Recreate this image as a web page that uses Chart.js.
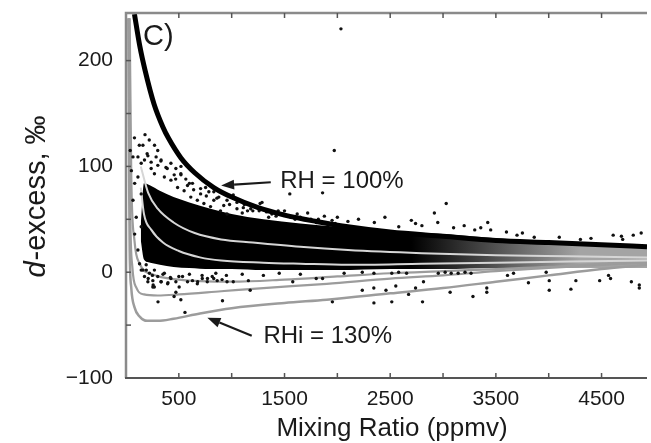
<!DOCTYPE html>
<html>
<head>
<meta charset="utf-8">
<script src="https://cdn.jsdelivr.net/npm/chart.js@4.4.1/dist/chart.umd.min.js"></script>
<style>
html, body { margin: 0; padding: 0; background: #fff; overflow: hidden; }
#wrap { width: 651px; height: 443px; position: relative; }
</style>
</head>
<body>
<div id="wrap"><canvas id="c"></canvas></div>
<script>
// RH = 100% curve (ppmv, permil)
const rhX = [80, 130, 180, 265, 350, 400, 520, 650, 830, 1000, 1250, 1500, 1800, 2100, 2500, 3000, 3500, 4000, 4500, 4930];
const rhY = [244, 214, 191, 159, 137, 127, 108, 94, 80, 71, 61, 54, 48, 43, 38, 34, 30, 28, 26, 24];

// dense part of the measurements (upper / lower edge)
const bandX = [140, 170, 230, 320, 450, 600, 800, 1000, 1300, 1650, 2000, 2500, 3000, 3500, 4000, 4500, 4930];
const bandTop = [45, 84, 82, 77, 71, 66, 60, 55, 50, 46, 43, 39, 36, 32, 29, 27, 25];
const bandBot = [30, 12, 9, 7, 5, 4, 3, 3, 2, 2, 2, 3, 3, 4, 4, 4, 4];

// light curves inside the band
const w1X = [140, 210, 300, 450, 650, 900, 1200, 1650, 2100, 2800, 3500, 4200, 4930];
const w1Y = [100, 75, 60, 47, 37, 31, 28, 24, 21, 18, 16, 15, 14];
const w2X = [140, 170, 240, 350, 500, 700, 900, 1300, 1650, 2100, 2800, 3500, 4200, 4930];
const w2Y = [80, 55, 40, 28, 20, 14, 11, 9, 8, 7, 8, 9, 10, 11];

// supersaturation curves below the band
const aX = [35, 50, 80, 130, 250, 500, 1000, 1500, 2000, 2500, 3000, 3500, 4000, 4500, 4930];
const aY = [240, 90, 30, 8, -2, -7, -9, -7, -4, -1, 1, 3, 5, 8, 10];
const bX = [28, 40, 60, 100, 170, 300, 500, 900, 1300, 1900, 2500, 3000, 3500, 4000, 4500, 4930];
const bY = [240, 60, 5, -15, -21, -22, -21, -18, -15, -11, -6, -3, 1, 4, 7, 9];
const cX = [22, 30, 35, 50, 80, 130, 200, 300, 450, 700, 1000, 1500, 1900, 2500, 3000, 3500, 4000, 4500, 4930];
const cY = [240, 80, 20, -15, -33, -42, -46, -46, -44, -39, -34, -29, -26, -20, -15, -9, -3, 3, 7];

// single observations outside the dense band
const dotX = [113, 144, 175, 238, 269, 301, 363, 425, 456, 488, 550, 582, 613, 675, 706, 737, 800, 831, 894, 925, 956,
  51, 82, 66, 97, 82, 113, 128, 160, 175, 207, 254, 144, 144, 66, 113, 80, 126, 40,
  1015, 1269, 1550, 1860, 1719, 1877, 1485, 1287, 1110, 2034, 1971, 3030, 2918, 3423, 3357, 3451, 2740, 2581, 3751, 3863, 4610, 4688, 4800, 4875,
  2100, 2200, 2350, 2450, 2700, 2800, 2950, 3100, 3200, 3300, 3600, 3700, 4100, 4300, 4400, 4700,
  1100, 1200, 1350, 1600, 1800, 1950,
  330, 390, 470, 520, 600, 640, 760, 860, 980, 1050, 1150, 1230, 1330, 1420, 1500, 1650, 1750, 1900, 2000, 520, 300, 270, 220, 200, 180, 160,
  425, 472, 519, 566, 629, 706, 753, 784, 831, 878, 956, 332, 378, 285, 238, 207,
  1050, 1120, 1180, 1260, 1380, 1440, 1560, 1620, 1700, 1820, 1980,
  303, 519, 558, 472, 913, 1175, 1578, 1158, 397, 332, 257, 210, 192, 678, 771, 1015, 268, 455, 830,
  144, 191, 222, 254, 269, 300, 332, 363, 394, 425, 472, 503, 535, 582, 629, 675, 722, 769, 816, 863, 909, 956,
  1800, 1860, 2236, 2460, 2553, 2740, 3067, 2345, 1953, 2346, 2515, 2806, 2674, 2815, 3283, 3414, 3414, 3610, 3667, 3808, 3976, 4005, 4005, 4210, 4257, 4482, 4566, 4585, 4782, 4857, 4857,
  2064, 2236, 2346, 2515, 2580, 2655, 2955, 3020, 3077, 3143, 3208, 3265,
  250, 350, 420, 500, 600, 720, 850, 950, 1100, 1300, 1450, 1650];
const dotY = [109, 103, 106, 98, 93, 101, 90, 87, 92, 80, 77, 82, 71, 68, 74, 65, 62, 68, 58, 63, 55,
  96, 84, 68, 52, 36, 21, 8, 2, -4, -9, -14, 74, 43, 109, 90, 127, 120, 115,
  73, 65, 74, 75, 56, 53, 55, 66, 61, 230, 115, 65, 56, 47, 42, 40, 46, 43, 37, 33, 35, 34, 35, 37,
  48, 50, 47, 52, 49, 44, 47, 42, 44, 40, 38, 35, 33, 31, 32, 31,
  56, 58, 52, 50, 47, 49,
  105, 98, 88, 92, 84, 78, 72, 70, 64, 60, 58, 62, 57, 53, 58, 52, 50, 46, 52, 100, 115, 120, 125, 112, 130, 120,
  103, 98, 93, 88, 84, 79, 80, 76, 76, 71, 68, 106, 99, 109, 104, 110,
  66, 64, 60, 58, 55, 58, 52, 55, 50, 50, 46,
  -28, -26, -38, -19, -27, -17, -9, -8, -10, -9, -12, -6, 2, -9, -6, -9, -14, -23, -6,
  2, 7, -1, -8, 2, -4, -9, -1, -11, -6, -9, -14, -4, -9, -8, -11, -6, -9, -4, -8, -7, -9,
  -6, -6, -17, -17, -13, -15, -19, -15, -28, -29, -28, -28, -21, -9, -23, -15, -19, -3, -1, -10, 0, -8, -17, -16, -8, -8, -3, -6, -9, -12, -15,
  -1, 0, -1, -1, 0, -1, -1, 0, -1, -1, 0, -1,
  -3, -2, -5, -4, -2, -3, -1, -3, -2, -3, -1, -2];

const xLabels = [500, 1500, 2500, 3500, 4500];
const yLabels = [-100, 0, 100, 200];

const pts = (xs, ys) => xs.map((x, i) => ({ x, y: ys[i] }));
const FONT = "'Liberation Sans', Arial, Helvetica, sans-serif";
const INK = '#1a1a1a';

const line = (data, color, width) => ({
  type: 'line', data, borderColor: color, borderWidth: width,
  pointRadius: 0, fill: false, cubicInterpolationMode: 'monotone'
});

// band colour fades from black to grey at high mixing ratios
function bandFill(c) {
  const chart = c.chart;
  if (!chart.chartArea) return '#000';
  const xs = chart.scales.x;
  const g = chart.ctx.createLinearGradient(xs.getPixelForValue(2700), 0, xs.getPixelForValue(4300), 0);
  g.addColorStop(0, '#000');
  g.addColorStop(1, '#a4a4a4');
  return g;
}

const frame = {
  id: 'frame',
  afterDatasetsDraw(chart) {
    const { ctx, chartArea: a, scales: { x, y } } = chart;
    ctx.save();
    // axes
    ctx.lineCap = 'butt';
    ctx.strokeStyle = '#8a8a8a';
    ctx.lineWidth = 2.5;
    ctx.beginPath();
    ctx.moveTo(a.left, a.bottom); ctx.lineTo(a.left, a.top); ctx.lineTo(a.right, a.top);
    ctx.stroke();
    ctx.strokeStyle = '#555';
    ctx.lineWidth = 2;
    ctx.beginPath(); ctx.moveTo(a.left - 1, a.bottom); ctx.lineTo(a.right, a.bottom); ctx.stroke();

    // inward tick marks
    ctx.lineWidth = 1.5;
    for (let v = 500; v <= 4500; v += 500) {
      const px = x.getPixelForValue(v);
      ctx.beginPath(); ctx.moveTo(px, a.bottom); ctx.lineTo(px, a.bottom - 5); ctx.stroke();
      ctx.beginPath(); ctx.moveTo(px, a.top); ctx.lineTo(px, a.top + 5); ctx.stroke();
    }
    for (let v = -50; v <= 200; v += 50) {
      const py = y.getPixelForValue(v);
      ctx.beginPath(); ctx.moveTo(a.left, py); ctx.lineTo(a.left + 5, py); ctx.stroke();
    }

    // tick labels
    ctx.fillStyle = INK;
    ctx.font = '21px ' + FONT;
    ctx.textAlign = 'center';
    ctx.textBaseline = 'top';
    xLabels.forEach(v => ctx.fillText(String(v), x.getPixelForValue(v), a.bottom + 11));
    ctx.textAlign = 'right';
    ctx.textBaseline = 'middle';
    yLabels.forEach(v => ctx.fillText(v < 0 ? '\u2212' + Math.abs(v) : String(v), a.left - 13, y.getPixelForValue(v)));

    // panel letter
    ctx.font = '29px ' + FONT;
    ctx.textAlign = 'left';
    ctx.textBaseline = 'alphabetic';
    ctx.fillText('C)', 143, 45);

    // annotations with arrows
    const arrow = (x0, y0, x1, y1) => {
      const p0 = [x.getPixelForValue(x0), y.getPixelForValue(y0)];
      const p1 = [x.getPixelForValue(x1), y.getPixelForValue(y1)];
      const ang = Math.atan2(p1[1] - p0[1], p1[0] - p0[0]);
      const L = 13, W = 5;
      const bx = p1[0] - L * Math.cos(ang), by = p1[1] - L * Math.sin(ang);
      ctx.strokeStyle = INK;
      ctx.lineWidth = 2.2;
      ctx.beginPath(); ctx.moveTo(p0[0], p0[1]); ctx.lineTo(bx, by); ctx.stroke();
      ctx.beginPath();
      ctx.moveTo(p1[0], p1[1]);
      ctx.lineTo(bx + W * Math.sin(ang), by - W * Math.cos(ang));
      ctx.lineTo(bx - W * Math.sin(ang), by + W * Math.cos(ang));
      ctx.closePath(); ctx.fill();
    };
    ctx.font = '24px ' + FONT;
    ctx.textBaseline = 'middle';
    ctx.fillText('RH = 100%', x.getPixelForValue(1460), y.getPixelForValue(86));
    arrow(1370, 85, 900, 82);
    ctx.fillText('RHi = 130%', x.getPixelForValue(1300), y.getPixelForValue(-61));
    arrow(1190, -60, 770, -43);

    // axis titles
    ctx.font = '26px ' + FONT;
    ctx.textAlign = 'center';
    ctx.textBaseline = 'middle';
    ctx.fillText('Mixing Ratio (ppmv)', 392, 429);

    ctx.translate(37, 197);
    ctx.rotate(-Math.PI / 2);
    ctx.textAlign = 'left';
    const it = 'italic 29px ' + FONT, rm = '29px ' + FONT;
    ctx.font = it; const w0 = ctx.measureText('d').width;
    ctx.font = rm; const w1 = ctx.measureText('-excess, ‰').width;
    const s = -(w0 + w1) / 2;
    ctx.font = it; ctx.fillText('d', s, 0);
    ctx.font = rm; ctx.fillText('-excess, ‰', s + w0 + 1, 0);
    ctx.restore();
  }
};

new Chart(document.getElementById('c'), {
  type: 'line',
  data: {
    datasets: [
      line(pts(rhX, rhY), '#000', 5),
      { type: 'scatter', data: pts(dotX, dotY), pointRadius: 1.7, pointBackgroundColor: '#111', pointBorderWidth: 0, showLine: false },
      line(pts(w1X, w1Y), '#d6d6d6', 2),
      line(pts(w2X, w2Y), '#d6d6d6', 2),
      line(pts(aX, aY), '#9c9c9c', 2.2),
      line(pts(bX, bY), '#9c9c9c', 2.2),
      line(pts(cX, cY), '#9c9c9c', 2.5),
      { type: 'line', data: pts(bandX, bandTop), borderWidth: 0, pointRadius: 0, fill: '+1',
        backgroundColor: bandFill, cubicInterpolationMode: 'monotone' },
      { type: 'line', data: pts(bandX, bandBot), borderWidth: 0, pointRadius: 0, fill: false,
        cubicInterpolationMode: 'monotone' }
    ]
  },
  options: {
    responsive: true,
    maintainAspectRatio: false,
    animation: false,
    layout: { padding: { left: 0, right: 0, top: 13, bottom: 0 } },
    plugins: { legend: { display: false }, tooltip: { enabled: false } },
    scales: {
      x: {
        type: 'linear', position: 'bottom', min: 0, max: 4930,
        afterFit: s => { s.height = 65; },
        grid: { display: false, drawTicks: false },
        border: { display: false },
        ticks: { display: false, stepSize: 500 }
      },
      y: {
        type: 'linear', position: 'left', min: -100, max: 245,
        afterFit: s => { s.width = 126; },
        grid: { display: false, drawTicks: false },
        border: { display: false },
        ticks: { display: false, stepSize: 50 }
      }
    }
  },
  plugins: [frame]
});
</script>
</body>
</html>
